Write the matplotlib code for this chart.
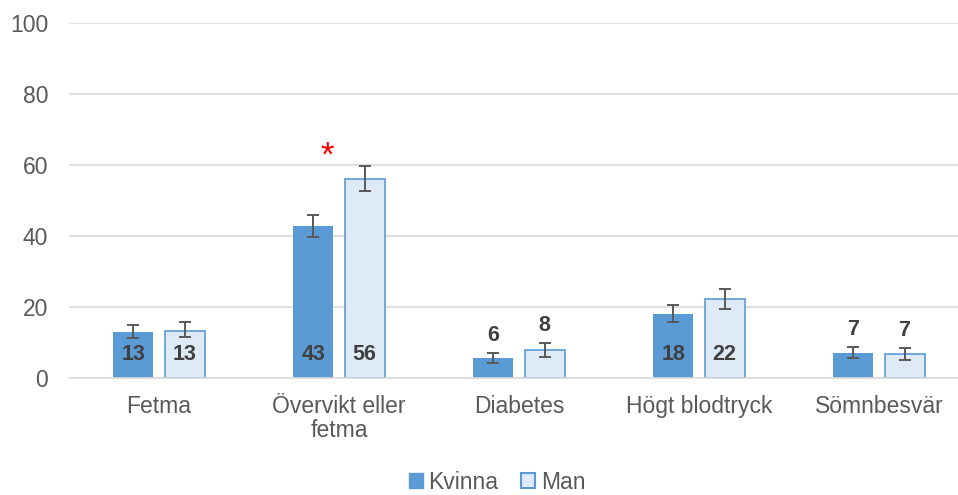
import matplotlib
matplotlib.use("Agg")
import matplotlib.pyplot as plt
import numpy as np
from matplotlib.patches import Patch

plt.rcParams['font.family'] = ['Liberation Sans', 'DejaVu Sans']

categories = ["Fetma", "Övervikt eller\nfetma", "Diabetes", "Högt blodtryck", "Sömnbesvär"]
kvinna = [13.0, 42.8, 5.6, 18.0, 7.0]
kvinna_lo = [11.3, 39.7, 4.2, 15.8, 5.6]
kvinna_hi = [14.9, 45.9, 7.0, 20.6, 8.7]
man = [13.3, 56.0, 7.9, 22.2, 6.8]
man_lo = [11.5, 52.7, 5.9, 19.4, 5.1]
man_hi = [15.8, 59.7, 9.9, 25.1, 8.5]
kvinna_labels = ["13", "43", "6", "18", "7"]
man_labels = ["13", "56", "8", "22", "7"]
significant = [False, True, False, False, False]
yticks = [0, 20, 40, 60, 80, 100]

W, H = 958, 495
fig = plt.figure(figsize=(W/100, H/100), dpi=100)
ax = fig.add_axes([69/W, (H-378)/H, (W-69)/W, (378-23)/H])

x = np.arange(len(categories))
bw = 0.222
off = 0.142
c_k = "#5B9BD5"
c_m = "#DEEBF7"
ecol = "#595959"

k = np.array(kvinna); m = np.array(man)
kerr = [k - np.array(kvinna_lo), np.array(kvinna_hi) - k]
merr = [m - np.array(man_lo), np.array(man_hi) - m]

ax.bar(x - off, k, bw, color=c_k, zorder=2)
ax.bar(x + off, m, bw, color=c_m, edgecolor=c_k, linewidth=1.2, zorder=2)
ax.errorbar(x - off, k, yerr=kerr, fmt='none', ecolor=ecol, elinewidth=1.4, capsize=4.5, capthick=1.4, zorder=3)
ax.errorbar(x + off, m, yerr=merr, fmt='none', ecolor=ecol, elinewidth=1.4, capsize=4.5, capthick=1.4, zorder=3)

lab_kw = dict(ha='center', va='center', fontsize=15.5, fontweight='bold', color='#404040', zorder=4)
for i in range(len(categories)):
    for xi, v, hi, lab in [(x[i]-off, kvinna[i], kvinna_hi[i], kvinna_labels[i]),
                           (x[i]+off, man[i], man_hi[i], man_labels[i])]:
        if v > 10:
            ax.text(xi, 6.5, lab, **lab_kw)
        else:
            ax.text(xi, hi + 5.0, lab, **lab_kw)
    if significant[i]:
        ax.text(x[i] - 0.065, 62.5, "*", ha='center', va='center', fontsize=25, color='#FF0000')

ax.set_ylim(0, 100)
ax.set_xlim(-0.5, -0.5 + (W-69)/180)
ax.set_yticks(yticks)
ax.set_xticks(x)
ax.set_xticklabels(categories)
ax.yaxis.grid(True, color='#D9D9D9', linewidth=1.2, zorder=0)
ax.set_axisbelow(True)
for s in ['top', 'right', 'left']:
    ax.spines[s].set_visible(False)
ax.spines['bottom'].set_color('#D9D9D9')
ax.spines['bottom'].set_linewidth(1.2)
ax.tick_params(axis='y', length=0, pad=15, labelsize=16.5, labelcolor='#595959')
ax.tick_params(axis='x', length=0, pad=12, labelsize=16.5, labelcolor='#595959')
for t in ax.get_xticklabels():
    t.set_linespacing(1.05)

handles = [Patch(facecolor=c_k, edgecolor=c_k), Patch(facecolor=c_m, edgecolor=c_k, linewidth=1.5)]
fig.legend(handles, ["Kvinna", "Man"], loc='center', bbox_to_anchor=(497/W, 1 - 482/H), ncol=2,
           frameon=False, fontsize=16.5, handlelength=0.6, handleheight=0.6, handletextpad=0.25,
           columnspacing=1.0, labelcolor='#595959', borderpad=0.1)

fig.savefig("out.png", dpi=100)
